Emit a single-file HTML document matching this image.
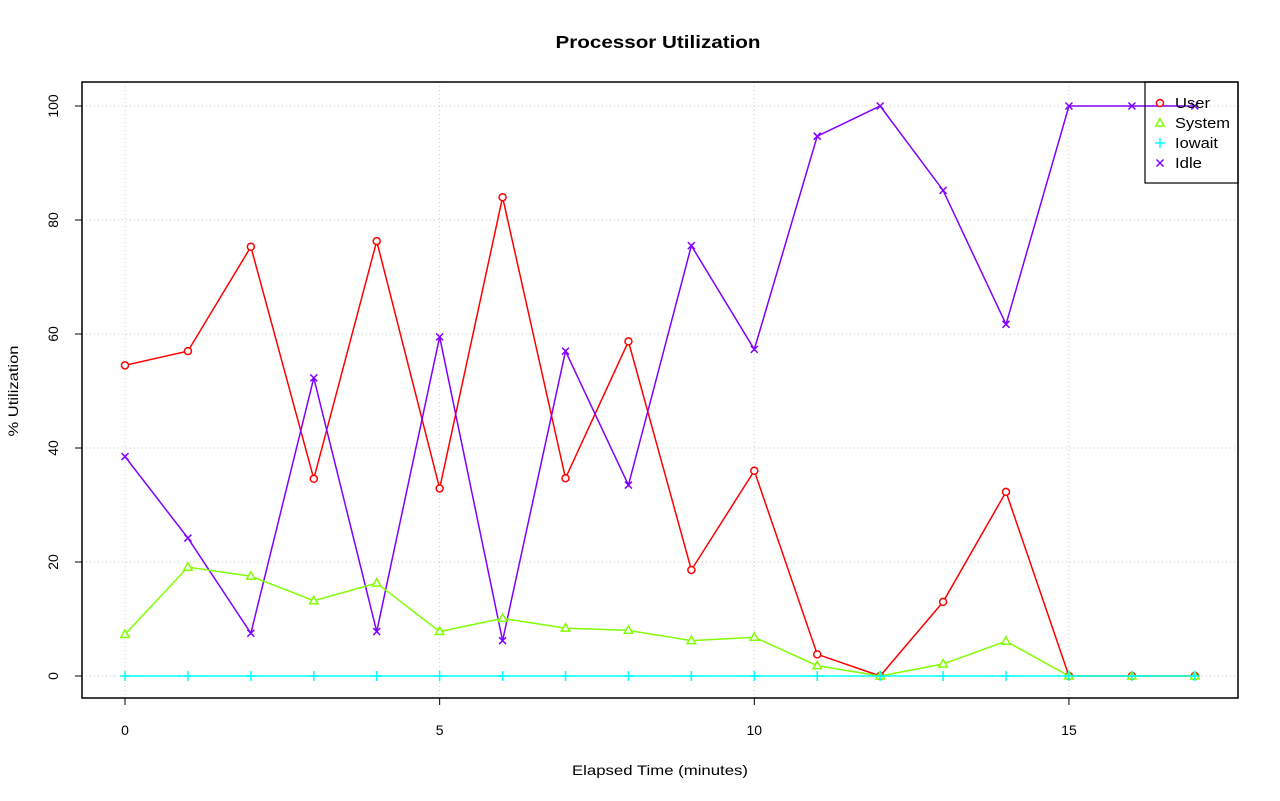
<!DOCTYPE html>
<html><head><meta charset="utf-8"><style>
html,body{margin:0;padding:0;background:#fff;}
svg{display:block;font-family:"Liberation Sans",Arial,sans-serif;}
</style></head><body>
<svg id="s" width="1280" height="801" viewBox="0 0 1280 801" xmlns="http://www.w3.org/2000/svg">
<rect width="1280" height="801" fill="#fff"/>
<text x="658" y="48" font-size="17.5" font-weight="bold" text-anchor="middle" textLength="205" lengthAdjust="spacingAndGlyphs">Processor Utilization</text>
<text x="660" y="775" font-size="14" text-anchor="middle" textLength="176" lengthAdjust="spacingAndGlyphs">Elapsed Time (minutes)</text>
<text transform="translate(18,391) rotate(-90)" font-size="14" text-anchor="middle" textLength="91" lengthAdjust="spacingAndGlyphs">% Utilization</text>
<g id="grid" stroke="#c8c8c8" stroke-dasharray="1,3" stroke-width="1"></g>
<g id="axes"></g>
<g id="series"></g>
<rect x="82" y="82" width="1156" height="616" fill="none" stroke="#000" stroke-width="1.5"/>
<g id="legend"></g>
</svg>
<script>
const NS="http://www.w3.org/2000/svg";
const X=v=>125+v*62.93, Y=v=>676-v*5.7;
function el(p,t,a,txt){const e=document.createElementNS(NS,t);for(const k in a)e.setAttribute(k,a[k]);if(txt!==undefined)e.textContent=txt;document.getElementById(p).appendChild(e);return e;}
[0,5,10,15].forEach(v=>{el('grid','line',{x1:X(v),x2:X(v),y1:82,y2:698});
 el('axes','line',{x1:X(v),x2:X(v),y1:698,y2:705,stroke:'#000'});
 el('axes','text',{x:X(v),y:735,'font-size':14,'text-anchor':'middle'},v);});
[0,20,40,60,80,100].forEach(v=>{el('grid','line',{x1:82,x2:1238,y1:Y(v),y2:Y(v)});
 el('axes','line',{x1:75,x2:82,y1:Y(v),y2:Y(v),stroke:'#000'});
 el('axes','text',{'font-size':14,'text-anchor':'middle',transform:`translate(58,${Y(v)}) rotate(-90)`},v);});
const user=[54.5,57,75.3,34.6,76.3,32.9,84,34.7,58.7,18.6,36,3.8,0,13,32.3,0,0,0];
const sys=[7.3,19.1,17.5,13.2,16.3,7.8,10.1,8.4,8,6.2,6.8,1.8,0,2.1,6.1,0,0,0];
const io=Array(18).fill(0);
const idle=[38.5,24.2,7.5,52.3,7.8,59.5,6.2,57,33.5,75.5,57.3,94.7,100,85.2,61.7,100,100,100];
function mark(g,type,x,y,c){
 if(type==='o')el(g,'circle',{cx:x,cy:y,r:3.5,fill:'#fff',stroke:c,'stroke-width':1.5});
 if(type==='t')el(g,'polygon',{points:`${x},${y-4.5} ${x-4.2},${y+3} ${x+4.2},${y+3}`,fill:'#fff',stroke:c,'stroke-width':1.5});
 if(type==='p'){el(g,'path',{d:`M${x-5},${y}H${x+5}M${x},${y-5}V${y+5}`,stroke:c,'stroke-width':1.5});}
 if(type==='x'){el(g,'path',{d:`M${x-3.5},${y-3.5}L${x+3.5},${y+3.5}M${x-3.5},${y+3.5}L${x+3.5},${y-3.5}`,stroke:c,'stroke-width':1.5});}
}
function series(d,c,type){
 const pts=d.map((v,i)=>[X(i),Y(v)]);
 el('series','polyline',{points:pts.map(p=>p.join(',')).join(' '),fill:'none',stroke:c,'stroke-width':1.5});
 pts.forEach(p=>mark('series',type,p[0],p[1],c));
}
series(user,'#ff0000','o');
series(idle,'#8000ff','x');
series(sys,'#80ff00','t');
series(io,'#00ffff','p');
el('legend','rect',{x:1145,y:82,width:93,height:101,fill:'none',stroke:'#000','stroke-width':1.2});
[['User','#ff0000','o'],['System','#80ff00','t'],['Iowait','#00ffff','p'],['Idle','#8000ff','x']].forEach((l,i)=>{
 const y=103+i*20;
 mark('legend',l[2],1160,y,l[1]);
 const w={User:35,System:55,Iowait:43,Idle:27}[l[0]];
 el('legend','text',{x:1175,y:y+5,'font-size':14.5,textLength:w,lengthAdjust:'spacingAndGlyphs'},l[0]);
});
</script>
</body></html>
